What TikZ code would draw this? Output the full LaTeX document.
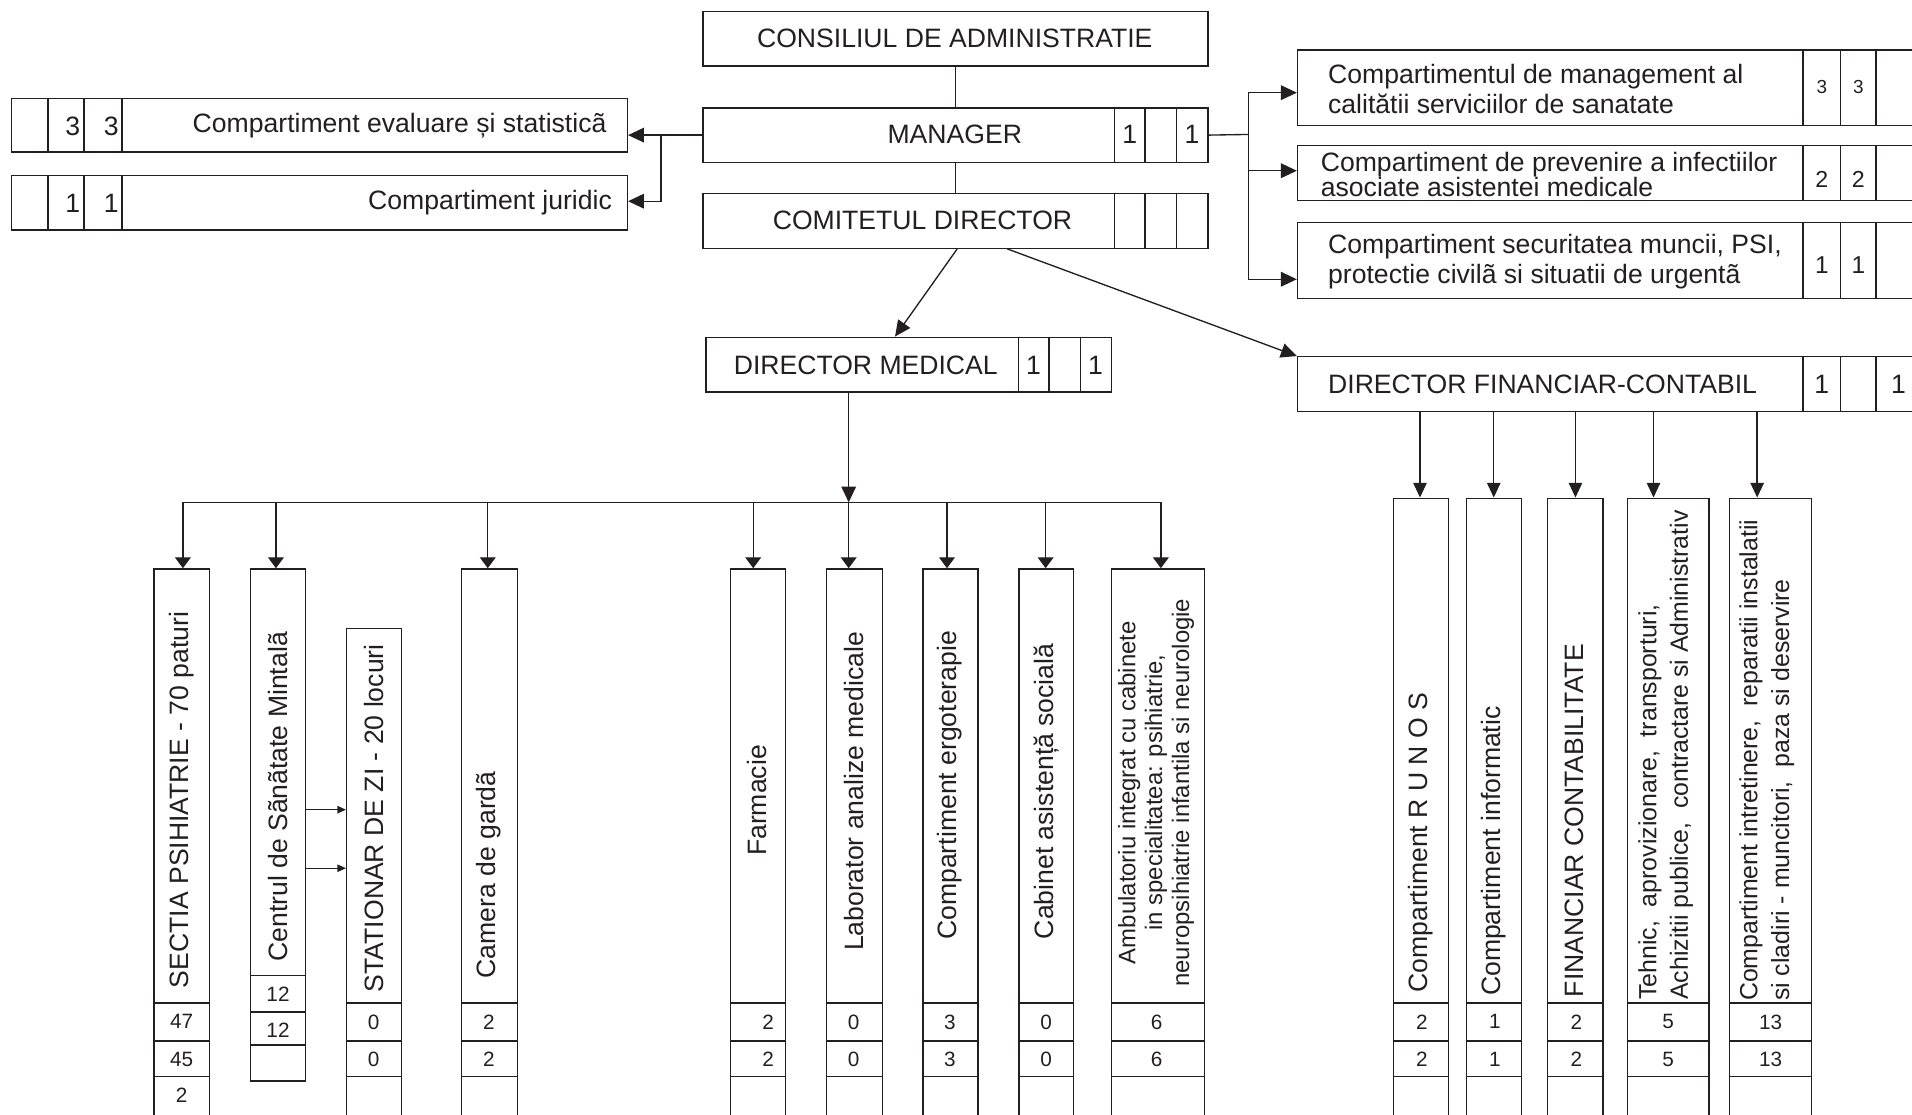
\documentclass[tikz,border=0pt]{standalone}
\usepackage{fontspec}
\setmainfont{Liberation Sans}
\usetikzlibrary{arrows.meta}
\definecolor{ink}{HTML}{231F20}
\newcommand\obox[5]{\node[bx, minimum width=#4pt, minimum height=#5pt] (#1) at (#2,#3) {};}
\begin{document}
\begin{tikzpicture}[x=1pt, y=-1pt,
 bx/.style={draw=ink, line width=1.1pt, inner sep=0pt, anchor=north west},
 ln/.style={draw=ink, line width=1.1pt},
 arr/.style={ln, -{Triangle[length=13pt,width=12pt]}},
 darr/.style={ln, -{Triangle[length=9pt,width=13pt]}},
 farr/.style={ln, -{Triangle[length=12pt,width=11pt]}},
 sarr/.style={ln, -{Triangle[length=7pt,width=6pt]}},
 txt/.style={text=ink, inner sep=0pt, font=\fontsize{21.8}{26}\selectfont},
 num/.style={text=ink, inner sep=0pt, font=\fontsize{17}{20}\selectfont},
 vtxt/.style={txt, rotate=90},
]
\useasboundingbox (0,0) rectangle (1568,914);
\clip (0,0) rectangle (1568,914);

% ---------- top boxes ----------
\obox{cons}{576}{9}{414}{44.5}
\obox{mgr}{576}{88}{414}{44.5}
\obox{com}{576}{158}{414}{45}
\obox{eval}{9}{80}{505}{44}
\obox{jur}{9}{143.5}{505}{44.5}
\obox{mgmt}{1063.5}{40.5}{520}{62}
\obox{prev}{1063.5}{119}{520}{45}
\obox{sec}{1063.5}{182}{520}{62.5}
\obox{dm}{578.5}{276}{332.5}{45}
\obox{df}{1063.5}{292}{520}{45}

% cell separators
\foreach \b in {mgr,com} \foreach \x in {914,939,965} \draw[ln] (\b.north -| \x,0) -- (\b.south -| \x,0);
\foreach \b in {eval,jur} \foreach \x in {39.5,68.8,100} \draw[ln] (\b.north -| \x,0) -- (\b.south -| \x,0);
\foreach \b in {mgmt,prev,sec,df} \foreach \x in {1478.5,1509.4,1538.4} \draw[ln] (\b.north -| \x,0) -- (\b.south -| \x,0);
\foreach \x in {835,860.3,886} \draw[ln] (dm.north -| \x,0) -- (dm.south -| \x,0);

% texts of top boxes
\node[txt] (tcons) at (783,31.5) {CONSILIUL DE ADMINISTRATIE};
\node[txt] (tmgr) at (783,110.5) {MANAGER};
\node[txt] (tcom) at (756.5,181) {COMITETUL DIRECTOR};
\node[txt] (tdm) at (710,299.5) {DIRECTOR MEDICAL};
\node[txt, anchor=west] (tdf) at (1089,315) {DIRECTOR FINANCIAR-CONTABIL};
\node[txt, anchor=east] (teval) at (497.5,103) {Compartiment evaluare și statisticã};
\node[txt, anchor=east] (tjur) at (502,166) {Compartiment juridic};
\node[txt, anchor=west, align=left, font=\fontsize{21.8}{25}\selectfont] (tmgmt) at (1089,73) {Compartimentul de management al\\calitătii serviciilor de sanatate};
\node[txt, anchor=west, align=left, font=\fontsize{21.8}{21}\selectfont] (tprev) at (1083,143) {Compartiment de prevenire a infectiilor\\asociate asistentei medicale};
\node[txt, anchor=west, align=left, font=\fontsize{21.8}{24}\selectfont] (tsec) at (1089,214.5) {Compartiment securitatea muncii, PSI,\\protectie civilã si situatii de urgentã};

% cell values
\node[txt, anchor=east] (ev1) at (66,104) {3};
\node[txt, anchor=east] (ev2) at (97.5,104) {3};
\node[txt, anchor=east] (ju1) at (66,167) {1};
\node[txt, anchor=east] (ju2) at (97.5,167) {1};
\node[txt] (mg1) at (926.5,110.5) {1};
\node[txt] (mg2) at (977.5,110.5) {1};
\node[txt] (dm1) at (847.5,299.5) {1};
\node[txt] (dm2) at (898.5,299.5) {1};
\node[txt] (df1) at (1494,315) {1};
\node[txt] (df2) at (1557,315) {1};
\node[txt, font=\fontsize{15.5}{18}\selectfont] (mc1) at (1494,71) {3};
\node[txt, font=\fontsize{15.5}{18}\selectfont] (mc2) at (1524,71) {3};
\node[txt, font=\fontsize{19}{22}\selectfont] (pc1) at (1494,147) {2};
\node[txt, font=\fontsize{19}{22}\selectfont] (pc2) at (1524,147) {2};
\node[txt, font=\fontsize{20}{22}\selectfont] (sc1) at (1494,217) {1};
\node[txt, font=\fontsize{20}{22}\selectfont] (sc2) at (1524,217) {1};

% ---------- top connectors ----------
\draw[ln] (cons.south) -- (mgr.north);
\draw[ln] (mgr.south) -- (com.north);
\draw[arr] (mgr.west) -- (eval.east |- mgr.west);
\coordinate (lj) at (542,110.25);
\draw[arr] (lj) |- (jur.east |- 0,165);
\coordinate (rj) at (1024,110.25);
\draw[ln] (mgr.east) -- (rj);
\draw[arr] (rj) |- (mgmt.west |- 0,76);
\draw[arr] (rj) |- (prev.west |- 0,140);
\draw[arr] (rj) |- (sec.west |- 0,229);
\draw[arr] (com.south -| 785,0) -- (dm.north -| 734,0);
\draw[arr] (com.south -| 826,0) -- (df.north west);

% ---------- medical branch ----------
\obox{sectia}{125.7}{466}{45.7}{464}
\obox{centrul}{205}{466}{45}{420}
\obox{stat}{283.7}{514.7}{45.1}{416}
\obox{camera}{378}{466}{46}{464}
\obox{farm}{598.7}{466}{45.1}{464}
\obox{lab}{677.5}{466}{45.5}{464}
\obox{ergo}{756.3}{466}{45.2}{464}
\obox{cab}{835}{466}{45}{464}
\obox{amb}{910.8}{466}{76.6}{464}

\foreach \b in {sectia,stat,camera,farm,lab,ergo,cab,amb}
  \foreach \y in {822.5,853.7,883} \draw[ln] (\b.west |- 0,\y) -- (\b.east |- 0,\y);
\foreach \y in {800,830,857} \draw[ln] (centrul.west |- 0,\y) -- (centrul.east |- 0,\y);

\coordinate (busL) at (150,412);
\coordinate (busR) at (952,412);
\draw[ln] (busL) -- (busR);
\draw[arr] (dm.south -| 696,0) -- (busL -| 696,0);
\foreach \n/\x in {sectia/150,centrul/226.3,camera/400,farm/617.7,lab/696,ergo/776.6,cab/857.5,amb/952}
  \draw[darr] (busL -| \x,0) -- (\n.north -| \x,0);
\draw[sarr] (centrul.east |- 0,664) -- (stat.west |- 0,664);
\draw[sarr] (centrul.east |- 0,712) -- (stat.west |- 0,712);

\node[vtxt] (tsectia) at (149,656) {SECTIA PSIHIATRIE - 70 paturi};
\node[vtxt] (tcentrul) at (228,653.5) {Centrul de Sãnãtate Mintalã};
\node[vtxt] (tstat) at (306.5,671) {STATIONAR DE ZI - 20 locuri};
\node[vtxt] (tcamera) at (401,717.5) {Camera de gardã};
\node[vtxt] (tfarm) at (621,656.5) {Farmacie};
\node[vtxt] (tlab) at (700,649) {Laborator analize medicale};
\node[vtxt] (tergo) at (779,644) {Compartiment ergoterapie};
\node[vtxt] (tcab) at (858,649) {Cabinet asistență socială};
\node[vtxt, align=center, font=\fontsize{19.6}{22}\selectfont] (tamb) at (948,650) {Ambulatoriu integrat cu cabinete\\in specialitatea: psihiatrie,\\neuropsihiatrie infantila si neurologie};

\node[num] (s1) at (149,838) {47};
\node[num] (s2) at (149,868.5) {45};
\node[num] (s3) at (149,898) {2};
\node[num] (c1) at (228,815) {12};
\node[num] (c2) at (228,845) {12};
\node[num] (st1) at (306.5,838) {0};
\node[num] (st2) at (306.5,868.5) {0};
\node[num] (ca1) at (401,838) {2};
\node[num] (ca2) at (401,868.5) {2};
\node[num] (f1) at (630,838) {2};
\node[num] (f2) at (630,868.5) {2};
\node[num] (l1) at (700,838) {0};
\node[num] (l2) at (700,868.5) {0};
\node[num] (e1) at (779,838) {3};
\node[num] (e2) at (779,868.5) {3};
\node[num] (cb1) at (858,838) {0};
\node[num] (cb2) at (858,868.5) {0};
\node[num] (a1) at (948.5,838) {6};
\node[num] (a2) at (948.5,868.5) {6};

% ---------- financial branch ----------
\obox{runos}{1142}{408}{45.5}{522}
\obox{inf}{1202}{408}{45}{522}
\obox{fc}{1268.6}{408}{45.4}{522}
\obox{teh}{1334}{408}{67}{522}
\obox{intr}{1418}{408}{67}{522}
\foreach \b in {runos,inf,fc,teh,intr}
  \foreach \y in {822.5,853.7,883} \draw[ln] (\b.west |- 0,\y) -- (\b.east |- 0,\y);
\foreach \n/\x in {runos/1164.5,inf/1225,fc/1292,teh/1356,intr/1441}
  \draw[farr] (df.south -| \x,0) -- (\n.north -| \x,0);

\node[vtxt] (trunos) at (1165,691) {Compartiment R U N O S};
\node[vtxt] (tinf) at (1225,698) {Compartiment informatic};
\node[vtxt] (tfc) at (1291,673) {FINANCIAR CONTABILITATE};
\node[vtxt, anchor=west, align=left, font=\fontsize{20.4}{26}\selectfont] (tteh) at (1366,820) {Tehnic,~ aprovizionare,~ transporturi,\\Achizitii publice,~ contractare si Administrativ};
\node[vtxt, anchor=west, align=left, font=\fontsize{20.4}{26}\selectfont] (tintr) at (1449,821) {Compartiment intretinere,~ reparatii instalatii\\si cladiri - muncitori,~ paza si deservire};

\node[num] (r1) at (1166,838) {2};
\node[num] (r2) at (1166,868.5) {2};
\node[num] (i1) at (1226,838) {1};
\node[num] (i2) at (1226,868.5) {1};
\node[num] (fc1) at (1292.7,838) {2};
\node[num] (fc2) at (1292.7,868.5) {2};
\node[num] (th1) at (1368,838) {5};
\node[num] (th2) at (1368,868.5) {5};
\node[num] (in1) at (1452,838) {13};
\node[num] (in2) at (1452,868.5) {13};
\end{tikzpicture}
\end{document}
